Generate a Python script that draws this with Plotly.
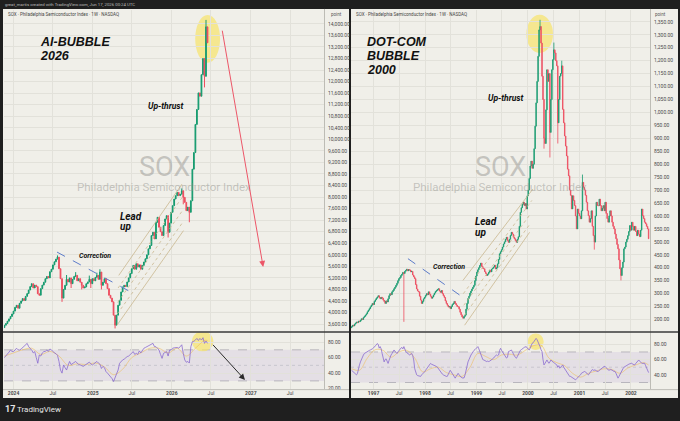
import plotly.graph_objects as go
import pandas as pd

W, H = 680, 421

# ---------------- data: AI bubble (weekly SOX, 2023-11 .. 2026-06) ----------------
AI_START = "2023-11-20"
ai_close = [
    3560, 3620, 3700, 3780, 3863, 3950, 4050, 4180, 4250, 4150,
    4320, 4400, 4483, 4420, 4560, 4656, 4780, 4900, 5000, 4850,
    4950, 4897, 4650, 4600, 4828, 4950, 5050, 5173, 5250, 5200,
    5414, 5500, 5650, 5759, 5850, 5920, 5518, 5173, 4500, 4800,
    4943, 5150, 5060, 5200, 5000, 5150, 5250, 5288, 5100, 5173,
    5050, 4943, 4850, 4886, 5000, 5060, 5150, 5000, 5173, 5100,
    5220, 5288, 5150, 5402, 4943, 5050, 5173, 5000, 4828, 4598,
    4500, 4370, 3910, 3563, 3910, 4253, 4425, 4714, 4886, 4943,
    4900, 5060, 5200, 5350, 5518, 5633, 5500, 5690, 5575, 5650,
    5500, 5633, 5750, 5863, 6000, 6207, 6322, 6667, 6782, 6552,
    7128, 7300, 6955, 6800, 6667, 7012, 7242, 7357, 6782, 7100,
    7472, 7702, 7932, 8047, 8162, 8050, 8100, 8219, 7990, 7817,
    7530, 7650, 7472, 7874, 8966, 9542, 10517, 11035, 11610, 11494,
    12240, 12800, 12183, 13897, 13345,
]
ai_first_open = 3480
ai_hi_idx = [35, 41, 47, 56, 61, 63, 117, 133]
ai_hi_val = [5980, 5300, 5400, 5280, 5380, 5500, 8300, 14138]
ai_lo_idx = [38, 44, 51, 57, 64, 73, 108, 118, 122, 127, 132]
ai_lo_val = [4370, 4850, 4800, 4850, 4800, 3449, 6600, 7750, 7128, 10800, 11800]
ai_rsi = [
    60, 62, 64, 67, 69.7, 68, 67.7, 70, 72, 70,
    69.7, 71, 73, 74, 76, 78.3, 74, 72, 69.7, 66,
    67.7, 60, 52.7, 63.3, 62, 66, 67.7, 68, 69.7, 68,
    71, 70, 67.7, 66, 65, 63, 55, 44, 40, 50.5,
    47, 44, 50, 55, 51, 52.7, 54, 55, 53, 51,
    50.5, 49, 48.7, 50, 51.5, 53, 54.2, 52, 50.5, 52,
    54, 55, 53, 51.5, 46, 48.7, 47, 42, 40, 37.7,
    35, 33, 29.2, 33.5, 37.7, 44, 52.7, 55, 57, 58,
    60, 61.3, 62, 64.2, 66, 67.7, 64, 65.5, 64, 68.6,
    66, 70, 72, 73, 74, 76, 77, 78, 78.3, 74,
    74, 72, 69.7, 64, 59, 65.5, 67, 67.7, 62, 69.7,
    70, 72, 72.5, 72.8, 73, 72, 74, 76.5, 65.5, 57,
    54, 55, 53, 74, 80.5, 81, 82.6, 84.7, 82, 84.7,
    82.6, 85.6, 78.3, 81.3, 78.3,
]
ai_ma_idx = [0, 6, 12, 18, 24, 30, 36, 42, 48, 54, 60, 66, 72, 78, 84, 90, 96, 102, 108, 114, 120, 126, 132, 134]
ai_ma_val = [62, 66, 70, 72, 64, 68, 62, 50, 52, 51, 53, 48, 38, 45, 60, 66, 72, 72, 66, 72, 62, 72, 82, 82]

# ---------------- data: Dot-com bubble (weekly SOX, 1996-07 .. 2002-05) ----------------
DC_START = "1996-07-29"
dc_close = [
    172, 178, 175, 182, 186, 190, 188, 194, 192, 197,
    203, 200, 208, 212, 217, 222, 230, 236, 242, 249,
    255, 262, 258, 270, 276, 282, 287, 292, 285, 280,
    286, 283, 275, 270, 262, 272, 268, 280, 292, 300,
    296, 307, 312, 319, 325, 332, 340, 350, 358, 362,
    370, 375, 382, 378, 386, 390, 394, 388, 393, 391,
    384, 386, 372, 365, 358, 335, 318, 310, 307, 290,
    275, 262, 270, 280, 286, 293, 300, 296, 307, 298,
    290, 282, 287, 295, 302, 308, 312, 316, 319, 310,
    305, 312, 300, 292, 285, 272, 262, 255, 248, 250,
    242, 250, 258, 262, 270, 262, 256, 250, 249, 240,
    228, 218, 210, 205, 212, 217, 240, 262, 281, 290,
    302, 310, 318, 325, 332, 350, 368, 383, 392, 400,
    409, 418, 405, 398, 396, 385, 378, 370, 375, 382,
    390, 384, 395, 398, 403, 410, 395, 400, 415, 432,
    454, 462, 470, 480, 492, 500, 510, 518, 505, 498,
    510, 525, 537, 530, 518, 512, 505, 498, 510, 520,
    560, 614, 632, 645, 653, 640, 648, 627, 678, 700,
    745, 793, 812, 784, 800, 860, 947, 1037, 1120, 1217,
    1319, 1332, 1268, 1140, 1050, 900, 880, 1010, 1165, 1120,
    1150, 923, 1050, 1165, 1204, 1242, 1230, 1200, 1180, 960,
    1050, 1140, 1150, 1180, 1012, 960, 909, 870, 832, 781,
    755, 700, 680, 627, 678, 660, 640, 600, 550, 627,
    610, 600, 589, 620, 730, 710, 700, 680, 653, 620,
    601, 576, 590, 620, 560, 524, 499, 600, 653, 640,
    640, 665, 640, 620, 630, 640, 620, 653, 610, 590,
    576, 600, 620, 600, 576, 560, 550, 530, 512, 490,
    473, 430, 396, 370, 400, 422, 473, 480, 499, 510,
    524, 540, 563, 545, 576, 560, 545, 560, 540, 524,
    545, 530, 520, 545, 627, 601, 590, 576, 570, 560,
    550, 512,
]
dc_first_open = 168
dc_hi_idx = [191, 205, 213, 234]
dc_hi_val = [1358, 1270, 1200, 760]
dc_lo_idx = [53, 195, 201, 209, 246, 273]
dc_lo_val = [191, 860, 826, 880, 470, 351]
dc_rsi = [
    46, 45, 44, 42, 41, 40, 42, 50, 53, 57,
    61, 64, 66, 68, 69, 70, 70.5, 71, 72, 72.6,
    73, 74, 75, 77, 78, 79, 81, 80, 75, 77,
    74, 68, 62, 57, 60, 61, 58, 55, 59, 64,
    66, 68, 70, 72.6, 71, 70, 68, 70, 72, 74,
    75, 76, 74, 77, 73, 70.5, 69, 68, 67, 66,
    67, 68, 65, 59.5, 48, 42, 40, 39, 38.5, 38,
    38, 40, 41, 42, 44, 46, 48, 49, 51, 53,
    55, 54, 53.5, 53, 52, 52.5, 51, 50, 48, 46,
    44, 42, 41, 40, 39, 38.5, 38, 38, 41, 44,
    46, 44, 42, 40, 37, 35.7, 38, 40, 42, 40,
    38, 37, 36, 35.7, 36, 40, 46, 53, 57, 60,
    64, 66, 68, 70.5, 72, 73, 74, 75, 77, 74,
    70.5, 66, 62, 60, 59.5, 59, 58, 57.4, 58, 57.4,
    58, 59, 59.5, 61, 62, 64, 65, 66, 65, 66,
    72, 74.8, 72, 70, 68, 66, 64, 62, 63, 70.5,
    71, 72, 72.6, 70, 66, 65, 63, 61.7, 64, 67,
    70.5, 72, 73, 74.8, 75, 76, 77, 77, 75, 73,
    72.6, 75, 79, 81.3, 82, 83.5, 86, 87.8, 86, 83.5,
    80, 77, 73, 70.5, 60, 53, 55, 57.4, 59.5, 57,
    55.2, 57, 59.5, 58, 57.4, 56, 55, 54, 53, 50,
    52, 48.7, 50, 51, 53, 50, 48, 46, 44.4, 42,
    40, 38, 37.9, 37, 36, 35.7, 34, 33.5, 35, 36,
    37.9, 39, 40, 42.2, 43, 44, 44.4, 44, 42, 41,
    40, 42, 44, 46.5, 47, 46, 46.5, 46.5, 45, 44.4,
    44.4, 46, 47, 48.7, 50, 51, 51, 51, 49, 47,
    46.5, 46, 47, 46.5, 46.5, 45, 44.4, 44.4, 42, 38,
    35.7, 38, 41, 44.4, 46, 48, 50, 51, 52, 52.5,
    53, 54, 54.5, 55, 55.2, 54, 53.5, 53, 55, 57,
    59, 59.5, 58, 56, 55.2, 55, 55.5, 55.2, 52, 48.7,
    44.4, 43,
]
dc_ma_idx = [0, 8, 16, 24, 32, 40, 48, 56, 64, 72, 80, 88, 96, 104, 112, 120, 128, 136, 144,
             152, 160, 168, 176, 184, 192, 200, 208, 216, 224, 232, 240, 248, 256, 264, 272,
             280, 288, 296, 301]
dc_ma_val = [48, 46, 62, 73, 72, 63, 70, 72, 62, 44, 48, 50, 43, 40, 38, 50, 68, 64, 60,
             66, 67, 66, 72, 78, 79, 62, 56, 52, 42, 37, 42, 45, 48, 47, 42, 49, 53, 56, 53]

# ---------------- axis ticks / labels ----------------
ai_price_ticks = list(range(3600, 14001, 400))
dc_price_ticks = list(range(200, 1351, 50))
rsi_ticks = [20, 40, 60, 80]
ai_time_ticks = ["2024-01-01", "2024-07-01", "2025-01-01", "2025-07-01",
                 "2026-01-01", "2026-07-01", "2027-01-01", "2027-07-01"]
ai_time_text = ["<b>2024</b>", "Jul", "<b>2025</b>", "Jul", "<b>2026</b>", "Jul", "<b>2027</b>", "Jul"]
dc_time_ticks = ["1997-01-01", "1997-07-01", "1998-01-01", "1998-07-01", "1999-01-01", "1999-07-01",
                 "2000-01-01", "2000-07-01", "2001-01-01", "2001-07-01", "2002-01-01"]
dc_time_text = ["<b>1997</b>", "Jul", "<b>1998</b>", "Jul", "<b>1999</b>", "Jul",
                "<b>2000</b>", "Jul", "<b>2001</b>", "Jul", "<b>2002</b>"]

# annotation drawings (data coordinates)
ai_channel = [  # (start date, start price, end date, end price, style)
    ("2025-05-01", 5287, "2026-02-17", 8449, "solid"),
    ("2025-04-28", 4850, "2026-02-19", 8000, "dot"),
    ("2025-04-26", 4350, "2026-02-21", 7550, "dot"),
    ("2025-04-24", 3950, "2026-02-23", 7150, "dot"),
    ("2025-04-23", 3563, "2026-02-24", 6838, "solid"),
]
dc_channel = [
    ("1998-09-27", 351, "2000-02-05", 704, "solid"),
    ("1998-09-30", 300, "2000-01-29", 660, "dot"),
    ("1998-10-03", 255, "2000-01-22", 610, "dot"),
    ("1998-10-06", 215, "2000-01-17", 570, "dot"),
    ("1998-10-09", 178, "2000-01-13", 537, "solid"),
]
ai_corr_line = ("2024-07-20", 6094, "2025-07-01", 4690)
dc_corr_line = ("1997-09-02", 435, "1998-10-09", 281)
ai_red_arrow = ("2026-08-21", 13817, "2027-02-27", 5577)
ai_rsi_arrow = ("2026-07-04", 78.3, "2026-12-05", 31.3)
ai_top_ellipse = ("2026-04-19", 12655, "2026-08-12", 14310)
dc_top_ellipse = ("1999-12-21", 1230, "2000-06-27", 1377)
ai_rsi_ellipse = ("2026-04-04", 68, "2026-07-12", 94)
dc_rsi_ellipse = ("1999-12-30", 72.6, "2000-04-22", 94.3)

# ---------------- helpers ----------------
def build_ohlc(close, first_open, hi_idx, hi_val, lo_idx, lo_val):
    opens = [first_open] + close[:-1]
    highs = [max(o, c) for o, c in zip(opens, close)]
    lows = [min(o, c) for o, c in zip(opens, close)]
    for i, v in zip(hi_idx, hi_val):
        highs[i] = max(highs[i], v)
    for i, v in zip(lo_idx, lo_val):
        lows[i] = min(lows[i], v)
    return opens, highs, lows


def px(x):
    return x / W


def py(y):
    return 1 - y / H


ai_dates = pd.date_range(AI_START, periods=len(ai_close), freq="7D")
dc_dates = pd.date_range(DC_START, periods=len(dc_close), freq="7D")
ai_o, ai_h, ai_l = build_ohlc(ai_close, ai_first_open, ai_hi_idx, ai_hi_val, ai_lo_idx, ai_lo_val)
dc_o, dc_h, dc_l = build_ohlc(dc_close, dc_first_open, dc_hi_idx, dc_hi_val, dc_lo_idx, dc_lo_val)

BG = "#1f1f1f"
PANEL = "#f0efe9"
GRID = "#e2e1da"
TXT = "#4a4a4a"
UP = "#169b6f"
DN = "#ee4d5f"
RSI_C = "#8a6bd1"
FONT = "Roboto"
TITLE_FONT = "Liberation Sans"

fig = go.Figure()

fig.add_trace(go.Candlestick(
    x=ai_dates, open=ai_o, high=ai_h, low=ai_l, close=ai_close, xaxis="x", yaxis="y",
    increasing=dict(line=dict(color=UP, width=1), fillcolor=UP),
    decreasing=dict(line=dict(color=DN, width=1), fillcolor=DN),
    whiskerwidth=0, hoverinfo="skip"))
fig.add_trace(go.Scatter(x=[ai_dates[i] for i in ai_ma_idx], y=ai_ma_val, xaxis="x2", yaxis="y2",
                         mode="lines", line=dict(color="rgba(238,190,95,0.75)", width=0.8, shape="spline"),
                         hoverinfo="skip"))
fig.add_trace(go.Scatter(x=ai_dates, y=ai_rsi, xaxis="x2", yaxis="y2", mode="lines",
                         line=dict(color=RSI_C, width=0.8), hoverinfo="skip"))

fig.add_trace(go.Candlestick(
    x=dc_dates, open=dc_o, high=dc_h, low=dc_l, close=dc_close, xaxis="x3", yaxis="y3",
    increasing=dict(line=dict(color=UP, width=0.8), fillcolor=UP),
    decreasing=dict(line=dict(color=DN, width=0.8), fillcolor=DN),
    whiskerwidth=0, hoverinfo="skip"))
fig.add_trace(go.Scatter(x=[dc_dates[i] for i in dc_ma_idx], y=dc_ma_val, xaxis="x4", yaxis="y4",
                         mode="lines", line=dict(color="rgba(238,190,95,0.75)", width=0.8, shape="spline"),
                         hoverinfo="skip"))
fig.add_trace(go.Scatter(x=dc_dates, y=dc_rsi, xaxis="x4", yaxis="y4", mode="lines",
                         line=dict(color=RSI_C, width=0.8), hoverinfo="skip"))

tickfont = dict(family=FONT, size=5, color=TXT)
L_DOM = [px(4), px(324)]
R_DOM = [px(351), px(650)]
MAIN_DOM = [py(333), py(10)]
RSI_DOM = [py(391), py(334)]

common_x = dict(type="date", showgrid=True, gridcolor=GRID, gridwidth=1, zeroline=False,
                showline=False, ticks="", fixedrange=True, tickfont=tickfont)
common_y = dict(side="right", showgrid=True, gridcolor=GRID, gridwidth=1, zeroline=False,
                showline=False, ticks="", ticklabelstandoff=3, tickfont=tickfont, fixedrange=True)

ai_range = ["2023-11-18", "2027-12-05"]
dc_range = ["1996-07-25", "2002-05-16"]

fig.update_layout(
    width=W, height=H, margin=dict(l=0, r=0, t=0, b=0),
    paper_bgcolor=BG, plot_bgcolor="rgba(0,0,0,0)", showlegend=False,
    xaxis=dict(common_x, domain=L_DOM, anchor="y", range=ai_range, tickvals=ai_time_ticks,
               showticklabels=False, rangeslider=dict(visible=False)),
    yaxis=dict(common_y, domain=MAIN_DOM, anchor="x", range=[3346, 14483],
               tickvals=ai_price_ticks, ticktext=[f"{v:,.2f}" for v in ai_price_ticks]),
    xaxis2=dict(common_x, domain=L_DOM, anchor="y2", range=ai_range, tickvals=ai_time_ticks,
                ticktext=ai_time_text),
    yaxis2=dict(common_y, domain=RSI_DOM, anchor="x2", range=[19.4, 92.4],
                tickvals=rsi_ticks, ticktext=[f"{v:.2f}" for v in rsi_ticks]),
    xaxis3=dict(common_x, domain=R_DOM, anchor="y3", range=dc_range, tickvals=dc_time_ticks,
                showticklabels=False, rangeslider=dict(visible=False)),
    yaxis3=dict(common_y, domain=MAIN_DOM, anchor="x3", range=[154, 1396],
                tickvals=dc_price_ticks, ticktext=[f"{v:,.2f}" for v in dc_price_ticks]),
    xaxis4=dict(common_x, domain=R_DOM, anchor="y4", range=dc_range, tickvals=dc_time_ticks,
                ticktext=dc_time_text),
    yaxis4=dict(common_y, domain=RSI_DOM, anchor="x4", range=[21.3, 95.6],
                tickvals=rsi_ticks, ticktext=[f"{v:.2f}" for v in rsi_ticks]),
)

shapes = []
# panels
for x0, x1 in [(3, 349), (351, 678)]:
    shapes.append(dict(type="rect", xref="paper", yref="paper", x0=px(x0), x1=px(x1),
                       y0=py(400), y1=py(9), fillcolor=PANEL, line=dict(width=0), layer="below"))
# RSI band + level lines
for xr, yr in [("x2", "y2"), ("x4", "y4")]:
    shapes.append(dict(type="rect", xref=f"{xr} domain", yref=yr, x0=0, x1=1, y0=30, y1=70,
                       fillcolor="rgba(126,87,194,0.10)", line=dict(width=0), layer="below"))
    for lvl, dash, col in [(70, "dash", "#a3a1ab"), (50, "dot", "#bdbbc4"), (30, "dash", "#a3a1ab")]:
        shapes.append(dict(type="line", xref=f"{xr} domain", yref=yr, x0=0, x1=1, y0=lvl, y1=lvl,
                           line=dict(color=col, width=0.7, dash=dash), layer="below"))
# ellipses
for (d0, v0, d1, v1), xr, yr in [(ai_top_ellipse, "x", "y"), (dc_top_ellipse, "x3", "y3"),
                                 (ai_rsi_ellipse, "x2", "y2"), (dc_rsi_ellipse, "x4", "y4")]:
    shapes.append(dict(type="circle", xref=xr, yref=yr, x0=d0, x1=d1, y0=v0, y1=v1,
                       fillcolor="rgba(246,228,105,0.7)", line=dict(width=0), layer="below"))
# channels
for chan, xr, yr in [(ai_channel, "x", "y"), (dc_channel, "x3", "y3")]:
    for d0, v0, d1, v1, st in chan:
        shapes.append(dict(type="line", xref=xr, yref=yr, x0=d0, y0=v0, x1=d1, y1=v1,
                           line=dict(color="#c9b78f", width=0.8, dash=st)))
# correction trend lines
for (d0, v0, d1, v1), xr, yr in [(ai_corr_line, "x", "y"), (dc_corr_line, "x3", "y3")]:
    shapes.append(dict(type="line", xref=xr, yref=yr, x0=d0, y0=v0, x1=d1, y1=v1,
                       line=dict(color="#5d7cc9", width=1, dash="dash")))
# separators
for xa, xb, xs in [(3, 349, 324.5), (351, 678, 650.5)]:
    shapes.append(dict(type="line", xref="paper", yref="paper", x0=px(xs), x1=px(xs),
                       y0=py(391), y1=py(9), line=dict(color="#bdbcb5", width=1)))
    shapes.append(dict(type="line", xref="paper", yref="paper", x0=px(xa), x1=px(xb),
                       y0=py(333.5), y1=py(333.5), line=dict(color="#3a3a3a", width=1.5)))
    shapes.append(dict(type="line", xref="paper", yref="paper", x0=px(xa), x1=px(xb),
                       y0=py(391.5), y1=py(391.5), line=dict(color="#bdbcb5", width=1)))
fig.update_layout(shapes=shapes)

ann = []


def text(x, y, s, size, color="#111", xanchor="left", yanchor="middle", family=FONT):
    ann.append(dict(xref="paper", yref="paper", x=px(x), y=py(y), text=s, showarrow=False,
                    xanchor=xanchor, yanchor=yanchor, borderpad=0,
                    font=dict(family=family, size=size, color=color)))


# top & bottom chrome
text(3.5, 5, "great_martis created with TradingView.com, Jun 17, 2026 00:24 UTC", 4.3, "#bdbdbd")
text(4, 411, "<b>17</b>", 9, "#e6e6e6")
text(16, 411, "TradingView", 8, "#e6e6e6")
# headers
text(6.5, 15, "SOX · Philadelphia Semiconductor Index · 1W · NASDAQ", 4.5, "#444")
text(355, 15, "SOX · Philadelphia Semiconductor Index · 1W · NASDAQ", 4.5, "#444")
text(330, 15, "point", 4.5, "#555")
text(654, 15, "point", 4.5, "#555")
# watermarks
for cx in (164, 500):
    text(cx, 167.5, "SOX", 27, "rgba(140,140,135,0.45)", xanchor="center")
    text(cx, 188, "Philadelphia Semiconductor Index", 11.5, "rgba(140,140,135,0.45)", xanchor="center")
# titles
text(39, 42, "<b><i>AI-BUBBLE</i></b>", 12.5, family=TITLE_FONT)
text(39, 56, "<b><i>2026</i></b>", 12.5, family=TITLE_FONT)
text(365.5, 42.5, "<b><i>DOT-COM</i></b>", 12.5, family=TITLE_FONT)
text(365.5, 56.5, "<b><i>BUBBLE</i></b>", 12.5, family=TITLE_FONT)
text(365.5, 70.5, "<b><i>2000</i></b>", 12.5, family=TITLE_FONT)
# phase labels
text(146.5, 107, "<b><i>Up-thrust</i></b>", 8.5)
text(487, 98.5, "<b><i>Up-thrust</i></b>", 8.5)
text(119, 217.5, "<b><i>Lead</i></b>", 10)
text(119, 228, "<b><i>up</i></b>", 10)
text(474, 223, "<b><i>Lead</i></b>", 10)
text(474, 233.5, "<b><i>up</i></b>", 10)
text(78, 257.5, "<b><i>Correction</i></b>", 7)
text(431.5, 268, "<b><i>Correction</i></b>", 7)

# arrows
d0, v0, d1, v1 = ai_red_arrow
ann.append(dict(xref="x", yref="y", axref="x", ayref="y", x=d1, y=v1, ax=d0, ay=v0, text="",
                showarrow=True, arrowhead=2, arrowsize=1.2, arrowwidth=1, arrowcolor="#ec5668"))
d0, v0, d1, v1 = ai_rsi_arrow
ann.append(dict(xref="x2", yref="y2", axref="x2", ayref="y2", x=d1, y=v1, ax=d0, ay=v0, text="",
                showarrow=True, arrowhead=2, arrowsize=1.2, arrowwidth=1, arrowcolor="#2b2b2b"))
fig.update_layout(annotations=ann)

fig.write_html("out.html")
